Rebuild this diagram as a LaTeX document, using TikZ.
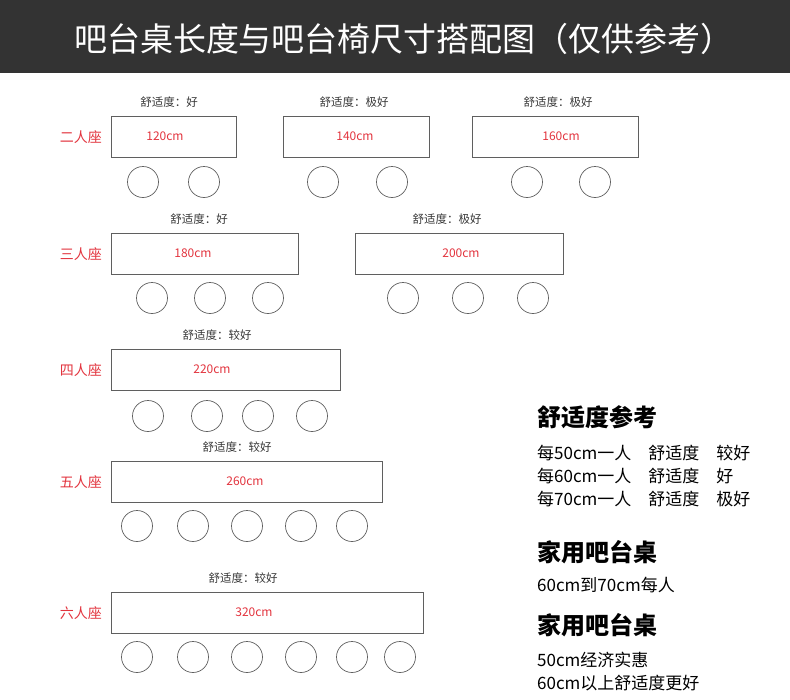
\documentclass[tikz,border=0pt]{standalone}
\usepackage{fontspec}
\setmainfont{Noto Sans CJK SC}
\usepackage{xcolor}
\usetikzlibrary{positioning}
\definecolor{barGray}{RGB}{51,51,51}
\definecolor{lineGray}{RGB}{95,95,95}
\definecolor{textGray}{RGB}{55,55,55}
\definecolor{seatRed}{RGB}{226,52,62}

\begin{document}
\begin{tikzpicture}[
            x=1pt, y=-1pt,
            seattable/.style={draw=lineGray, line width=0.8pt, minimum height=41pt, inner sep=0pt, anchor=north west},
            chair/.style={circle, draw=lineGray, line width=0.7pt, minimum size=31pt, inner sep=0pt},
            comfort/.style={font=\fontsize{11.5}{13}\selectfont, text=textGray, inner sep=0pt},
            lenlabel/.style={font=\fontsize{12}{14}\selectfont, text=seatRed, inner sep=0pt},
            seats/.style={font=\fontsize{14}{16}\selectfont, text=seatRed, inner sep=0pt},
            refhead/.style={font=\fontsize{24}{26}\selectfont\bfseries, anchor=west, inner sep=0pt},
            refline/.style={font=\fontsize{17}{19}\selectfont, anchor=west, inner sep=0pt}
        ]
        \useasboundingbox (0,0) rectangle (790,699);

        % title bar
        \fill[barGray] (0,0) rectangle (790,73);
        \node[text=white, font=\fontsize{33}{36}\selectfont] (title) at (404,39)
            {吧台桌长度与吧台椅尺寸搭配图（仅供参考）};

        % tables
        \foreach \Table/\Left/\Top/\Width/\Length/\LenX/\Comfort/\ComX in {
                r1a/111/116/125/120/165/好/169,
                r1b/283/116/146/140/355/极好/354,
                r1c/472/116/166/160/561/极好/558,
                r2a/111/233/187/180/193/好/199,
                r2b/355/233/208/200/461/极好/447,
                r3/111/349/229/220/212/较好/217,
                r4/111/461/271/260/245/较好/237,
                r5/111/592/312/320/254/较好/243}
        {
            \node[seattable, minimum width=\Width pt] (\Table) at (\Left,\Top) {};
            \node[lenlabel] (\Table-len) at (\LenX,\Top+20.5) {\Length cm};
            \node[comfort] (\Table-comfort) at (\ComX,\Top-14) {舒适度：\Comfort};
        }

        % chairs
        \foreach \Table/\Y/\Xs in {
                r1a/182/{143,204}, r1b/182/{323,392}, r1c/182/{527,595},
                r2a/298/{152,210,268}, r2b/298/{403,468,533},
                r3/416/{148,207,258,312},
                r4/526/{137,193,247,301,352},
                r5/657/{137,193,247,301,352,400}}
            \foreach \X [count=\i] in \Xs
                \node[chair] (\Table-c\i) at (\X,\Y) {};

        % seat counts
        \foreach \Table/\Seats in {r1a/二人座, r2a/三人座, r3/四人座, r4/五人座, r5/六人座}
            \node[seats, left=9pt of \Table] (\Table-seats) {\Seats};

        % reference notes
        \node[refhead] (ref-head) at (537,417) {舒适度参考};
        \node[refline] (ref-50) at (537,453) {每50cm一人　舒适度　较好};
        \node[refline] (ref-60) at (537,476) {每60cm一人　舒适度　好};
        \node[refline] (ref-70) at (537,499) {每70cm一人　舒适度　极好};

        \node[refhead] (home-head) at (537,552) {家用吧台桌};
        \node[refline] (home-range) at (537,585) {60cm到70cm每人};
        \node[refhead] (home-head2) at (537,625) {家用吧台桌};
        \node[refline] (home-50) at (537,660) {50cm经济实惠};
        \node[refline] (home-60) at (537,683) {60cm以上舒适度更好};
    \end{tikzpicture}
\end{document}
